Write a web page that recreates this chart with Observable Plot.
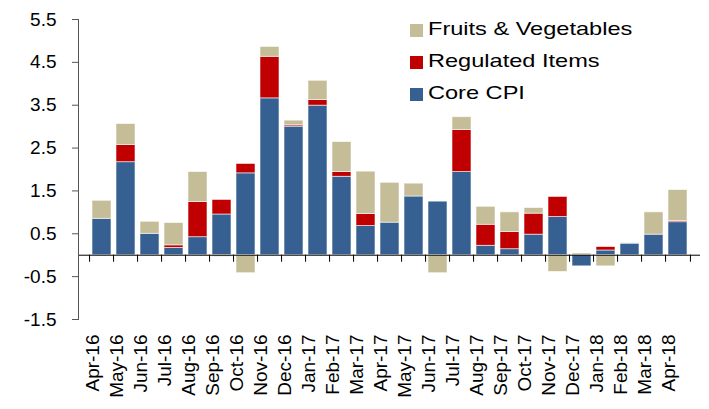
<!DOCTYPE html>
<html>
<head>
<meta charset="utf-8">
<script src="https://cdn.jsdelivr.net/npm/d3@7"></script>
<script src="https://cdn.jsdelivr.net/npm/@observablehq/plot@0.6"></script>
<style>
  html, body { margin: 0; padding: 0; background: #fff; }
  #wrap { position: relative; width: 709px; height: 409px; font-family: "Liberation Sans", Arial, sans-serif; }
  #legend { position: absolute; left: 410px; top: 13px; }
  .row { display: flex; align-items: center; height: 32px; font-size: 19px; color: #000; white-space: nowrap; }
  .row span { display: inline-block; transform: scaleX(1.24); transform-origin: left center; }
  .sw { width: 13px; height: 13px; margin-right: 5px; margin-top: 2px; flex: none; }
</style>
</head>
<body>
<div id="wrap"><div id="legend"></div></div>
<script>
const months = ["Apr-16","May-16","Jun-16","Jul-16","Aug-16","Sep-16","Oct-16","Nov-16","Dec-16","Jan-17","Feb-17","Mar-17","Apr-17","May-17","Jun-17","Jul-17","Aug-17","Sep-17","Oct-17","Nov-17","Dec-17","Jan-18","Feb-18","Mar-18","Apr-18"];
const coreCPI   = [0.85, 2.17, 0.50, 0.17, 0.42, 0.95, 1.91, 3.66, 3.00, 3.49, 1.83, 0.68, 0.76, 1.37, 1.25, 1.94, 0.22, 0.14, 0.48, 0.89, -0.26, 0.11, 0.27, 0.48, 0.77];
const regulated = [0.00, 0.40, 0.00, 0.06, 0.82, 0.34, 0.22, 0.97, 0.03, 0.13, 0.11, 0.28, 0.00, 0.00, 0.00, 0.98, 0.49, 0.40, 0.49, 0.47, 0.00, 0.08, 0.00, 0.00, 0.03];
const fruitsVeg = [0.42, 0.49, 0.28, 0.52, 0.70, -0.04, -0.42, 0.23, 0.11, 0.45, 0.70, 0.99, 0.93, 0.30, -0.42, 0.30, 0.42, 0.46, 0.13, -0.39, 0.04, -0.26, 0.01, 0.52, 0.72];
const seriesNames = ["Core CPI", "Regulated Items", "Fruits & Vegetables"];
const seriesColors = ["#376092", "#C00000", "#C4BD97"];
const legendOrder = ["Fruits & Vegetables", "Regulated Items", "Core CPI"];
const yTicks = [-1.5, -0.5, 0.5, 1.5, 2.5, 3.5, 4.5, 5.5];

const seriesValues = [coreCPI, regulated, fruitsVeg];
const data = months.flatMap((m, i) => seriesNames.map((s, k) => ({month: m, series: s, value: seriesValues[k][i]})));

const W = 709, H = 409, ML = 78, MR = 9, MT = 19, MB = 90;
const step = (W - ML - MR) / months.length;

const chart = Plot.plot({
  width: W, height: H,
  marginLeft: ML, marginRight: MR, marginTop: MT, marginBottom: MB,
  style: {fontFamily: "'Liberation Sans', Arial, sans-serif", fontSize: "19px", color: "#000", background: "#fff"},
  x: {domain: months, paddingInner: 0.22, paddingOuter: 0.11, label: null},
  y: {domain: [-1.5, 5.5], label: null},
  color: {domain: seriesNames, range: seriesColors},
  marks: [
    Plot.barY(data, Plot.stackY({x: "month", y: "value", fill: "series", order: seriesNames, stroke: "#ffffff", strokeOpacity: 0.7, strokeWidth: 0.8})),
    Plot.ruleY([0], {stroke: "#000", strokeWidth: 1}),
    Plot.ruleX(months, {x: d => d, y1: 0, y2: 0, insetBottom: -7, dx: -step / 2, stroke: "#000"}),
    Plot.ruleX(months.slice(-1), {x: d => d, y1: 0, y2: 0, insetBottom: -7, dx: step / 2, stroke: "#000"}),
    Plot.frame({anchor: "left", stroke: "#555"}),
    Plot.axisY({ticks: yTicks, tickSize: 6, tickPadding: 16, tickFormat: d => d.toFixed(1), stroke: "#555", fontSize: 19, ariaLabel: "y-axis"}),
    Plot.axisX({tickSize: 0, tickRotate: -90, tickPadding: 15, dx: -9, fontSize: 19, ariaLabel: "x-axis"})
  ]
});
document.getElementById("wrap").prepend(chart);

// widen the glyphs along the text direction, as in the reference font rendering
function stretch(selector, factor) {
  chart.querySelectorAll(selector).forEach(t => {
    const len = t.getComputedTextLength();
    if (len > 0) {
      t.setAttribute("textLength", (len * factor).toFixed(1));
      t.setAttribute("lengthAdjust", "spacingAndGlyphs");
    }
  });
}
stretch('[aria-label="y-axis"] text', 1.2);
stretch('[aria-label="x-axis"] text', 1.16);

const legend = document.getElementById("legend");
legendOrder.forEach(name => {
  const row = document.createElement("div");
  row.className = "row";
  const sw = document.createElement("div");
  sw.className = "sw";
  sw.style.background = seriesColors[seriesNames.indexOf(name)];
  const t = document.createElement("span");
  t.textContent = name;
  row.append(sw, t);
  legend.append(row);
});
</script>
</body>
</html>
